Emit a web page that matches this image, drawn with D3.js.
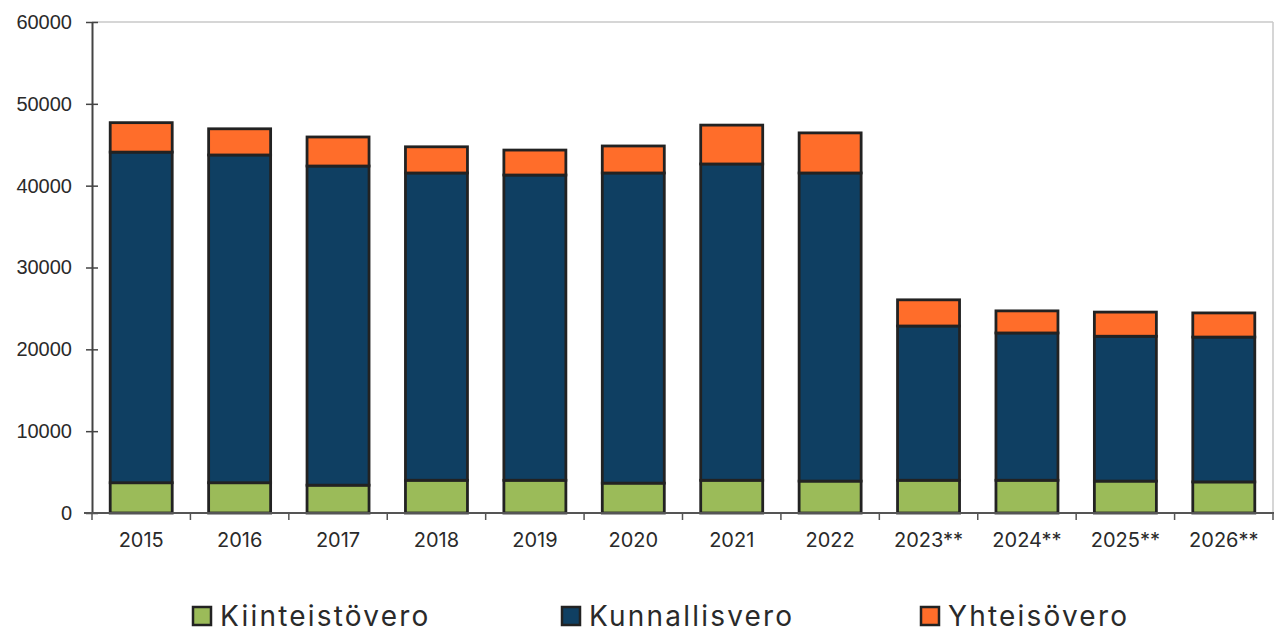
<!DOCTYPE html>
<html>
<head>
<meta charset="utf-8">
<script src="https://cdn.jsdelivr.net/npm/d3@7"></script>
<style>
  body { margin: 0; background: #fff; }
  svg { display: block; font-family: Inter, "Noto Sans", sans-serif; }
</style>
</head>
<body>
<div id="chart"></div>
<script>
const years = ["2015", "2016", "2017", "2018", "2019", "2020", "2021", "2022", "2023**", "2024**", "2025**", "2026**"];
const kiinteistovero = [3700, 3700, 3400, 4000, 4000, 3650, 4000, 3900, 4000, 4000, 3900, 3800];
const kunnallisvero = [40400, 40050, 39000, 37550, 37300, 37900, 38650, 37650, 18850, 18000, 17700, 17700];
const yhteisovero = [3600, 3200, 3550, 3200, 3050, 3300, 4750, 4900, 3200, 2700, 2950, 2950];
const seriesNames = ["Kiinteistövero", "Kunnallisvero", "Yhteisövero"];
const colors = ["#9bbb59", "#0f3f62", "#ff6d2a"];
const yTicks = [0, 10000, 20000, 30000, 40000, 50000, 60000];

const width = 1274, height = 630;
const margin = { top: 22, right: 1, bottom: 117, left: 92 };

const svg = d3.select('#chart').append('svg')
  .attr('width', width)
  .attr('height', height);

const rows = years.map((y, i) => ({
  year: y,
  [seriesNames[0]]: kiinteistovero[i],
  [seriesNames[1]]: kunnallisvero[i],
  [seriesNames[2]]: yhteisovero[i]
}));
const stacked = d3.stack().keys(seriesNames)(rows);

const x = d3.scaleBand().domain(years)
  .range([margin.left, width - margin.right])
  .paddingInner(0.37).paddingOuter(0.185);
const y = d3.scaleLinear().domain([0, 60000])
  .range([height - margin.bottom, margin.top]);

// light frame top & right
svg.append('line')
  .attr('x1', margin.left).attr('x2', width - margin.right)
  .attr('y1', y(60000)).attr('y2', y(60000))
  .attr('stroke', '#c8c8c8').attr('stroke-width', 1.5);
svg.append('line')
  .attr('x1', width - margin.right).attr('x2', width - margin.right)
  .attr('y1', y(60000)).attr('y2', y(0))
  .attr('stroke', '#c8c8c8').attr('stroke-width', 1.5);

svg.append('g').selectAll('g')
  .data(stacked)
  .join('g')
    .attr('fill', (d, i) => colors[i])
  .selectAll('rect')
  .data(d => d)
  .join('rect')
    .attr('x', d => x(d.data.year))
    .attr('y', d => y(d[1]))
    .attr('width', x.bandwidth())
    .attr('height', d => y(d[0]) - y(d[1]))
    .attr('stroke', '#222')
    .attr('stroke-width', 2.8);

// y axis
const yAxis = svg.append('g')
  .attr('transform', 'translate(' + margin.left + ',0)')
  .call(d3.axisLeft(y).tickValues(yTicks).tickSize(6).tickSizeOuter(0).tickFormat(d3.format('d')));
yAxis.select('.domain').attr('stroke', '#444').attr('stroke-width', 2);
yAxis.selectAll('.tick line').attr('stroke', '#444').attr('stroke-width', 1.5).attr('x2', 6).attr('x1', -6);
yAxis.selectAll('.tick text').attr('x', -20).attr('font-size', 20).attr('fill', '#2a2a2a');

// x axis
const step = x.step();
const xAxisG = svg.append('g').attr('transform', 'translate(0,' + y(0) + ')');
xAxisG.append('line')
  .attr('x1', margin.left - 8).attr('x2', width)
  .attr('stroke', '#555').attr('stroke-width', 2);
xAxisG.selectAll('.xtick')
  .data(d3.range(years.length + 1))
  .join('line')
    .attr('class', 'xtick')
    .attr('x1', i => margin.left + i * step)
    .attr('x2', i => margin.left + i * step)
    .attr('y1', 0).attr('y2', 7)
    .attr('stroke', '#555').attr('stroke-width', 1.5);
xAxisG.selectAll('text')
  .data(years)
  .join('text')
    .attr('x', d => x(d) + x.bandwidth() / 2)
    .attr('y', 34)
    .attr('text-anchor', 'middle')
    .attr('font-size', 20)
    .attr('fill', '#2a2a2a')
    .text(d => d);

// legend
const legendX = [193, 562, 921];
const legend = svg.append('g').selectAll('g')
  .data(seriesNames)
  .join('g')
    .attr('transform', (d, i) => 'translate(' + legendX[i] + ',607)');
legend.append('rect')
  .attr('width', 18).attr('height', 18)
  .attr('fill', (d, i) => colors[i])
  .attr('stroke', '#222').attr('stroke-width', 2.5);
legend.append('text')
  .attr('x', 27).attr('y', 19)
  .attr('font-size', 28)
  .attr('letter-spacing', 2.2)
  .attr('fill', '#2a2a2a')
  .text(d => d);
</script>
</body>
</html>
